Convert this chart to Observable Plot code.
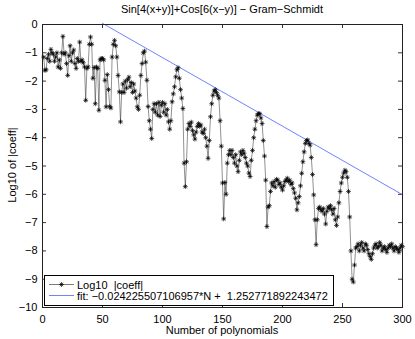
<!DOCTYPE html>
<html><head><meta charset="utf-8">
<script src="https://cdn.jsdelivr.net/npm/d3@7"></script>
<script src="https://cdn.jsdelivr.net/npm/@observablehq/plot@0.6"></script>
<style>
body{margin:0;background:#fff;font-family:"Liberation Sans",Arial,sans-serif;}
#wrap{position:relative;width:415px;height:339px;overflow:hidden;}
.ov{position:absolute;font-size:11px;color:#000;white-space:pre;}
#title{top:3px;left:42px;width:360px;text-align:center;}
#xlab{top:324px;left:42px;width:360px;text-align:center;}
#ylab{left:12px;top:165px;transform:translate(-50%,-50%) rotate(-90deg);}
#legend{position:absolute;left:44px;top:275px;width:288px;height:29px;border:1px solid #000;background:#fff;}
#legend svg{position:absolute;left:0;top:0;}
</style></head><body>
<div id="wrap"></div>
<script>
const titleText = "Sin[4(x+y)]+Cos[6(x\u2212y)] \u2212 Gram\u2212Schmidt";
const xLabel = "Number of polynomials";
const yLabel = "Log10 of |coeff|";
const legendLabels = ["Log10  |coeff|", "fit: \u22120.024225507106957*N +  1.252771892243472"];
const xTicks = [0, 50, 100, 150, 200, 250, 300];
const yTicks = [0, -1, -2, -3, -4, -5, -6, -7, -8, -9, -10];
const fitSlope = -0.024225507106957;
const fitIntercept = 1.252771892243472;
const fitRange = [50, 300];
// log10 |coeff| for N = 1..300
const logCoeff = [
 -1.15,-1.62,-1.6,-1.2,-1.05,-1.3,-0.88,-1.0,-1.05,-1.3,
 -1.15,-1.0,-1.5,-1.25,-1.55,-1.0,-0.42,-1.05,-1.0,-1.38,
 -1.8,-1.1,-0.75,-1.3,-1.0,-0.9,-1.38,-1.55,-1.2,-1.3,
 -0.62,-1.3,-1.25,-1.35,-1.5,-2.68,-1.55,-1.5,-0.7,-0.44,
 -0.7,-1.9,-1.52,-2.8,-1.5,-1.55,-3.03,-1.25,-1.2,-1.2,
 -1.25,-1.97,-2.91,-1.77,-2.3,-2.9,-2.95,-1.15,-0.7,-0.56,
 -0.75,-1.15,-1.8,-2.38,-3.44,-2.4,-2.1,-2.4,-2.0,-2.25,
 -1.95,-1.86,-2.2,-2.05,-2.4,-2.1,-2.35,-2.6,-2.91,-3.0,
 -2.5,-1.8,-1.38,-1.0,-0.94,-1.33,-1.97,-2.9,-3.4,-3.7,
 -4.03,-3.0,-2.8,-3.1,-2.8,-3.2,-2.75,-3.25,-2.85,-2.75,
 -3.1,-2.8,-3.2,-3.0,-3.44,-3.7,-3.4,-2.73,-2.45,-2.2,
 -1.85,-1.6,-1.53,-1.9,-2.3,-2.6,-2.97,-4.9,-5.73,-4.85,
 -3.7,-3.5,-3.6,-3.45,-3.75,-3.9,-4.05,-3.8,-3.6,-3.5,
 -3.6,-3.55,-3.8,-3.85,-3.7,-4.0,-4.3,-4.73,-4.1,-3.26,
 -2.8,-2.5,-2.35,-2.3,-2.4,-2.5,-2.6,-3.4,-4.3,-5.6,
 -6.87,-5.58,-6.0,-4.9,-4.6,-4.45,-4.6,-4.45,-4.7,-4.9,
 -4.6,-5.0,-5.2,-4.8,-4.5,-4.6,-4.45,-4.55,-4.7,-4.9,
 -5.0,-5.25,-5.37,-4.8,-4.45,-4.0,-3.7,-3.4,-3.2,-3.15,
 -3.15,-3.3,-3.5,-4.1,-4.65,-5.5,-7.14,-6.45,-6.4,-5.9,
 -5.6,-5.7,-5.55,-5.75,-5.47,-5.5,-5.65,-5.6,-5.75,-5.85,
 -5.7,-5.55,-5.5,-5.43,-5.55,-5.5,-5.65,-5.6,-5.8,-5.95,
 -6.14,-6.55,-6.3,-6.08,-5.7,-5.26,-4.85,-4.5,-4.2,-4.1,
 -4.08,-4.2,-4.26,-4.7,-5.3,-6.02,-6.9,-7.78,-6.9,-6.5,
 -6.45,-6.55,-6.6,-6.5,-6.7,-7.05,-6.6,-6.45,-6.5,-6.4,
 -6.55,-6.7,-6.5,-6.9,-7.1,-6.8,-6.3,-5.9,-5.6,-5.4,
 -5.25,-5.15,-5.2,-5.4,-5.9,-6.8,-8.0,-9.0,-9.1,-8.5,
 -7.9,-7.85,-7.75,-8.0,-7.8,-7.7,-7.9,-8.0,-7.75,-7.8,
 -7.95,-8.1,-8.2,-8.3,-8.1,-7.9,-7.8,-7.75,-7.9,-7.85,
 -7.7,-7.8,-8.0,-7.9,-7.85,-7.95,-8.05,-7.9,-7.8,-7.85,
 -7.75,-7.9,-8.0,-7.85,-7.9,-7.95,-8.05,-7.9,-7.8,-7.85
];

const pts = logCoeff.map((v, i) => ({N: i + 1, v}));
const fitPts = fitRange.map(n => ({N: n, v: fitSlope * n + fitIntercept}));

const asterisk = {draw(ctx, size) {
  const r = Math.sqrt(size / Math.PI), d = r * 0.7071;
  ctx.moveTo(-r, 0); ctx.lineTo(r, 0);
  ctx.moveTo(0, -r); ctx.lineTo(0, r);
  ctx.moveTo(-d, -d); ctx.lineTo(d, d);
  ctx.moveTo(-d, d); ctx.lineTo(d, -d);
}};

const W = 415, H = 339, mT = 24, mB = 32, mL = 42, mR = 13;
const fw = W - mL - mR, fh = H - mT - mB, tl = 4;

const chart = Plot.plot({
  width: W, height: H, marginTop: mT, marginBottom: mB, marginLeft: mL, marginRight: mR,
  style: {fontFamily: "Liberation Sans, Arial, sans-serif", fontSize: "11px", background: "white", color: "black"},
  x: {domain: [0, 300], ticks: xTicks, tickSize: 0, tickPadding: 8, label: null},
  y: {domain: [-10, 0], ticks: yTicks, tickSize: 0, tickPadding: 5, label: null},
  marks: [
    Plot.ruleX(xTicks, {x: d => d, insetTop: fh - tl, stroke: "black", strokeWidth: 0.8}),
    Plot.ruleX(xTicks, {x: d => d, insetBottom: fh - tl, stroke: "black", strokeWidth: 0.8}),
    Plot.ruleY(yTicks, {y: d => d, insetRight: fw - tl, stroke: "black", strokeWidth: 0.8}),
    Plot.ruleY(yTicks, {y: d => d, insetLeft: fw - tl, stroke: "black", strokeWidth: 0.8}),
    Plot.line(fitPts, {x: "N", y: "v", stroke: "#4a63ff", strokeWidth: 0.8}),
    Plot.line(pts, {x: "N", y: "v", stroke: "#222", strokeWidth: 0.5}),
    Plot.dot(pts, {x: "N", y: "v", symbol: asterisk, r: 2.4, stroke: "#000", strokeWidth: 0.7, fill: "none"}),
    Plot.frame({stroke: "#222", strokeWidth: 1})
  ]
});
const wrap = document.getElementById("wrap");
wrap.appendChild(chart);

function addDiv(id, text) {
  const d = document.createElement("div");
  d.id = id; d.className = "ov"; d.textContent = text; wrap.appendChild(d);
}
addDiv("title", titleText);
addDiv("xlab", xLabel);
addDiv("ylab", yLabel);

// legend
const lg = document.createElement("div");
lg.id = "legend";
wrap.appendChild(lg);
const svg = d3.select(lg).append("svg").attr("width", 288).attr("height", 29);
svg.append("line").attr("x1", 4).attr("x2", 29).attr("y1", 8.5).attr("y2", 8.5).attr("stroke", "#222").attr("stroke-width", 0.6);
svg.append("path").attr("transform", "translate(16.5,8.5)").attr("d", (() => {const p = d3.path(); asterisk.draw(p, 2.4 * 2.4 * Math.PI); return p.toString();})()).attr("stroke", "#000").attr("stroke-width", 0.7).attr("fill", "none");
svg.append("line").attr("x1", 4).attr("x2", 29).attr("y1", 19.5).attr("y2", 19.5).attr("stroke", "#4a63ff").attr("stroke-width", 0.8);
legendLabels.forEach((t, i) => {
  svg.append("text").attr("x", 32).attr("y", i === 0 ? 12.5 : 23.5)
    .attr("font-family", "Liberation Sans, Arial, sans-serif").attr("font-size", 11)
    .attr("xml:space", "preserve").style("white-space", "pre").text(t);
});
</script>
</body></html>
